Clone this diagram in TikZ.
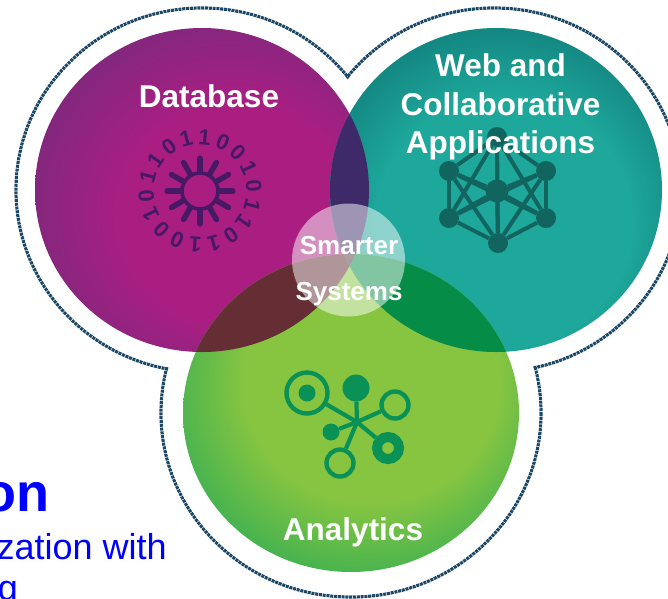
\documentclass[tikz,border=0pt]{standalone}
\usepackage{fontspec}
\setmainfont{Liberation Sans}
\usepackage{xcolor}
\usepackage{tikz}
\usetikzlibrary{calc}
\definecolor{rimblue}{RGB}{28,72,104}
\definecolor{dbmid}{RGB}{170,30,130}
\definecolor{dbedge}{RGB}{128,40,125}
\definecolor{dbdark}{RGB}{70,25,100}
\definecolor{webmid}{RGB}{30,168,155}
\definecolor{webedge}{RGB}{12,112,112}
\definecolor{webdark}{RGB}{18,100,95}
\definecolor{anamid}{RGB}{135,197,65}
\definecolor{anaedge}{RGB}{45,172,85}
\definecolor{anadark}{RGB}{10,145,85}
\definecolor{dbweb}{RGB}{62,42,104}
\definecolor{dbana}{RGB}{100,46,52}
\definecolor{webana}{RGB}{5,140,70}
\definecolor{allthree}{RGB}{88,60,70}
\pgfdeclareradialshading{dbball}{\pgfpoint{8bp}{-6bp}}{color(0bp)=(dbmid); color(17bp)=(dbmid); color(30bp)=(dbedge); color(50bp)=(dbedge)}
\pgfdeclareradialshading{webball}{\pgfpoint{2bp}{-8bp}}{color(0bp)=(webmid); color(19bp)=(webmid); color(35bp)=(webedge); color(50bp)=(webedge)}
\pgfdeclareradialshading{anaball}{\pgfpoint{5bp}{8bp}}{color(0bp)=(anamid); color(19bp)=(anamid); color(33bp)=(anaedge); color(50bp)=(anaedge)}
\pgfkeys{tikz/rimline/.style={draw=rimblue,line width=3.2pt,dash pattern=on 3pt off 0.8pt}}
\pgfkeys{tikz/ballname/.style={text=white,font=\fontsize{31.5}{38.5}\selectfont\bfseries,align=center,inner sep=0pt}}
\pgfkeys{tikz/corename/.style={text=white,font=\fontsize{26}{31}\selectfont\bfseries,inner sep=0pt}}
\pgfkeys{tikz/bluetext/.style={text=blue,inner sep=0pt}}
\pgfkeys{tikz/bitlabel/.style={text=dbdark,font=\fontsize{22}{22}\selectfont\bfseries,inner sep=0pt}}
\pgfkeys{tikz/sunray/.style={draw=dbdark,line width=5.5pt,line cap=round}}
\pgfkeys{tikz/netnode/.style={circle,fill=webdark,inner sep=0pt,minimum size=#1}}
\pgfkeys{tikz/netline/.style={draw=webdark,line width=4pt}}
\pgfkeys{tikz/anafull/.style={circle,fill=anadark,inner sep=0pt,minimum size=#1}}
\pgfkeys{tikz/anaopen/.style={circle,draw=anadark,inner sep=0pt,line width=#1}}
\pgfkeys{tikz/analine/.style={draw=anadark,line width=4.2pt}}
\newcommand*\dbpath{(202,190) ellipse [x radius=167,y radius=162]}
\newcommand*\webpath{(496,190) ellipse [x radius=166,y radius=162]}
\newcommand*\anapath{(351,413) ellipse [x radius=168,y radius=159]}
\newcommand*\dbrim[1]{(202,190) ellipse [x radius=186-#1,y radius=182-#1]}
\newcommand*\webrim[1]{(494,190) ellipse [x radius=187-#1,y radius=182-#1]}
\newcommand*\anarim[1]{(351,413) ellipse [x radius=190-#1,y radius=184-#1]}

\begin{document}
\begin{tikzpicture}[x=1pt,y=-1pt]
    \useasboundingbox (0,0) rectangle (668,598);
    \clip (0,0) rectangle (668,598);
    \draw[rimline] \dbrim{0};
    \draw[rimline] \webrim{0};
    \draw[rimline] \anarim{0};
    \fill[white] \dbrim{1.8};
    \fill[white] \webrim{1.8};
    \fill[white] \anarim{1.8};

    \shade[shading=dbball] \dbpath;
    \shade[shading=webball] \webpath;
    \shade[shading=anaball] \anapath;
    \begin{scope}
        \clip \dbpath;
        \fill[dbweb] \webpath;
        \fill[dbana] \anapath;
        \clip \webpath;
        \fill[allthree] \anapath;
    \end{scope}
    \begin{scope}
        \clip \webpath;
        \clip \anapath;
        \fill[webana] (300,200) rectangle (560,400);
        \clip \dbpath;
        \fill[allthree] (300,200) rectangle (560,400);
    \end{scope}

    \node[circle,fill=white,fill opacity=0.5,inner sep=0pt,minimum size=113pt] (core) at (348.5,260) {};

    \node[circle,draw=dbdark,line width=3.6pt,inner sep=0pt,minimum size=36pt] (sun) at (200,191) {};
    \foreach \a in {0,30,...,330}
        \draw[sunray] (sun.\a) -- ++(\a:13pt);
    \foreach \bit [count=\i, evaluate=\i as \a using 105-20*\i] in {1,0,0,1,0,1,1,0,1,1,0,0,1,0,1,1,0,1}
        \node[bitlabel,rotate=\a-90] (bit\i) at ($(sun)+(\a:54pt)$) {\bit};

    \node[netnode=23pt] (hub) at (497,191) {};
    \node[netnode=20pt] (nettop) at (497,137) {};
    \node[netnode=20pt] (netur) at (546,171) {};
    \node[netnode=20pt] (netlr) at (546,218) {};
    \node[netnode=20pt] (netbot) at (498,243) {};
    \node[netnode=20pt] (netll) at (449,218) {};
    \node[netnode=20pt] (netul) at (449,171) {};
    \foreach \p/\q in {hub/nettop,hub/netur,hub/netlr,hub/netbot,hub/netll,hub/netul,
        nettop/netur,netur/netlr,netlr/netbot,netbot/netll,netll/netul,netul/nettop,
        nettop/netll,nettop/netlr,nettop/netbot,netbot/netul,netbot/netur,netul/netlr,netur/netll}
        \draw[netline] (\p) -- (\q);

    \coordinate (star) at (357,422);
    \node[anaopen=4.4pt,minimum size=41pt] (target) at (307,393) {};
    \node[anafull=17pt] (targetdot) at (307,393) {};
    \node[anafull=27pt] (bigdot) at (356,388) {};
    \node[anaopen=4.4pt,minimum size=27pt] (ringa) at (395,405) {};
    \node[anafull=17pt] (smalldot) at (331,432) {};
    \node[anaopen=10pt,minimum size=22pt] (ringb) at (388,448) {};
    \node[anaopen=4.4pt,minimum size=27pt] (ringc) at (340,463) {};
    \foreach \p in {target,bigdot,ringa,smalldot,ringb,ringc}
        \draw[analine] (star) -- (\p);

    \node[ballname] (dbname) at (209,96) {Database};
    \node[ballname] (webname) at (500.5,107) {Web and\\Collaborative\\Applications};
    \node[ballname] (ananame) at (353,532) {Analytics};
    \node[corename] (coretop) at (349,245.5) {Smarter};
    \node[corename] (corebot) at (349,294) {Systems};

    \node[bluetext,anchor=base east,font=\fontsize{54}{54}\selectfont\bfseries] (titleend) at (50,511) {on};
    \node[bluetext,anchor=base east,font=\fontsize{36}{36}\selectfont] (lineone) at (167,559.5) {zation with};
    \node[bluetext,anchor=base east,font=\fontsize{36}{36}\selectfont] (linetwo) at (18,600) {g};
\end{tikzpicture}
\end{document}
